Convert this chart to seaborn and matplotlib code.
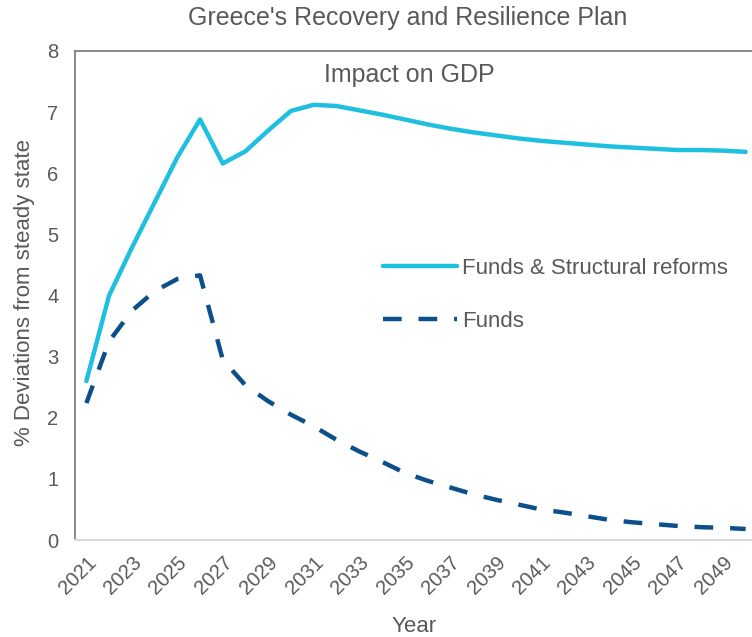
import matplotlib
matplotlib.use("Agg")
import matplotlib.pyplot as plt
import matplotlib.transforms as mtransforms
import seaborn as sns
import pandas as pd

years = [str(y) for y in range(2021, 2051)]
funds_reforms = [2.6, 4.0, 4.78, 5.52, 6.26, 6.88, 6.16, 6.36, 6.7, 7.02,
                 7.12, 7.1, 7.03, 6.96, 6.88, 6.8, 6.73, 6.67, 6.62, 6.57,
                 6.53, 6.5, 6.47, 6.44, 6.42, 6.40, 6.38, 6.38, 6.37, 6.35]
funds = [2.24, 3.25, 3.75, 4.07, 4.27, 4.33, 2.95, 2.53, 2.27, 2.05,
         1.86, 1.64, 1.45, 1.28, 1.1, 0.97, 0.86, 0.75, 0.66, 0.58,
         0.5, 0.45, 0.39, 0.33, 0.29, 0.26, 0.23, 0.21, 0.2, 0.18]
series_names = ["Funds & Structural reforms", "Funds"]
yticks = [0, 1, 2, 3, 4, 5, 6, 7, 8]

df = pd.DataFrame({
    "Year": years * 2,
    "value": funds_reforms + funds,
    "series": [series_names[0]] * len(years) + [series_names[1]] * len(years),
})

sns.set_style("white")
plt.rcParams['font.family'] = ['Liberation Sans', 'DejaVu Sans']
TXT = "#595959"

fig = plt.figure(figsize=(7.52, 6.37), dpi=100)
W, H = 752, 637
ax = fig.add_axes([75 / W, 1 - 540 / H, 682 / W, 489 / H])

sns.lineplot(data=df[df.series == series_names[0]], x="Year", y="value",
             color="#1FBFE0", linewidth=3.2, ax=ax, label=series_names[0],
             sort=False)
sns.lineplot(data=df[df.series == series_names[1]], x="Year", y="value",
             color="#0B4F8B", linewidth=3.2, ax=ax, label=series_names[1],
             sort=False, linestyle=(0, (4.2, 3.8)))

ax.set_xlim(-0.5, len(years) - 0.5)
ax.set_ylim(0, 8)
ax.set_yticks(yticks)
ax.set_xticks(range(0, len(years), 2))
ax.set_xticklabels(years[::2], rotation=45, ha="right", rotation_mode="anchor")
offset = mtransforms.ScaledTranslation(-5 / 100, 0, fig.dpi_scale_trans)
for lbl in ax.get_xticklabels():
    lbl.set_transform(lbl.get_transform() + offset)

ax.tick_params(axis="y", length=0, pad=12, labelsize=14.5, labelcolor=TXT)
ax.tick_params(axis="x", length=0, pad=9, labelsize=14.5, labelcolor=TXT)

ax.spines["right"].set_visible(False)
ax.spines["left"].set_color("#808080")
ax.spines["left"].set_linewidth(1.3)
ax.spines["bottom"].set_color("#D9D9D9")
ax.spines["bottom"].set_linewidth(1.5)
ax.spines["top"].set_color("#808080")
ax.spines["top"].set_linewidth(1.3)

ax.set_xlabel("Year", fontsize=16, color=TXT)
ax.set_ylabel("% Deviations from steady state", fontsize=16, color=TXT)
ax.xaxis.set_label_coords(414 / W, 1 - 627 / H, transform=fig.transFigure)
ax.yaxis.set_label_coords(25 / W, 1 - 292 / H, transform=fig.transFigure)
ax.xaxis.label.set_va("center")
ax.yaxis.label.set_va("center")

fig.text(408 / W, 1 - 18 / H, "Greece's Recovery and Resilience Plan",
         ha="center", va="center", fontsize=18, color=TXT)
fig.text(409 / W, 1 - 75 / H, "Impact on GDP",
         ha="center", va="center", fontsize=18, color=TXT)

leg = ax.legend(loc="upper left", bbox_to_anchor=(383 / W, 1 - 258 / H),
                bbox_transform=fig.transFigure, frameon=False,
                fontsize=16, handlelength=3.35, handletextpad=0.22,
                labelspacing=1.45, borderaxespad=0, borderpad=0)
for t in leg.get_texts():
    t.set_color(TXT)

fig.savefig("out.png", dpi=100)
